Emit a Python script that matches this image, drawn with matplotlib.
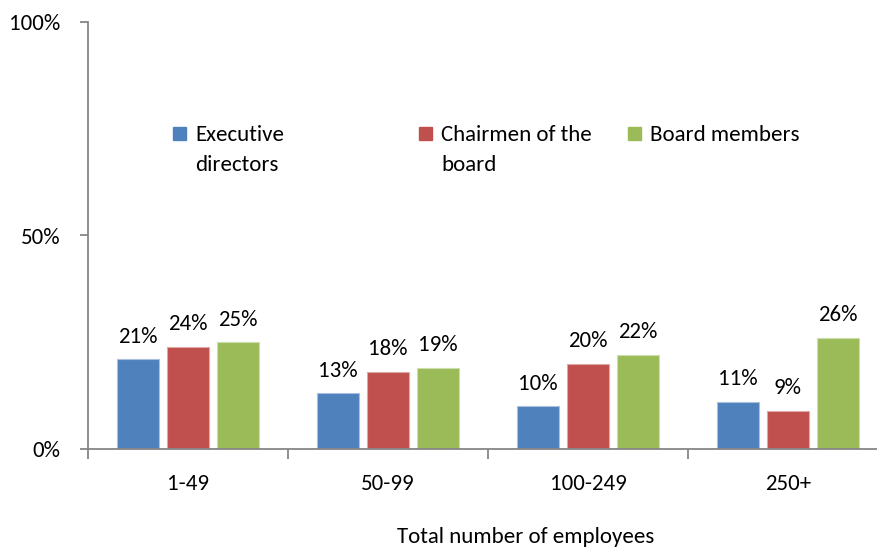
import matplotlib
matplotlib.use("Agg")
import matplotlib.pyplot as plt
from matplotlib.patches import Rectangle
import numpy as np

plt.rcParams['font.family'] = ['Carlito', 'Lato', 'DejaVu Sans']

categories = ["1-49", "50-99", "100-249", "250+"]
series_names = [["Executive", "directors"], ["Chairmen of the", "board"], ["Board members"]]
executive = [21, 13, 10, 11]
chairmen = [24, 18, 20, 9]
board = [25, 19, 22, 26]
yticks = [0, 50, 100]
ytick_labels = ["0%", "50%", "100%"]
xlabel = "Total number of employees"

colors = ["#4F81BD", "#C0504D", "#9BBB59"]
edges = ["#A9C0DE", "#DFA9A7", "#CDDDAC"]

W, H = 877, 550
fig = plt.figure(figsize=(W / 100, H / 100), dpi=100)
ax = fig.add_axes([88 / W, (H - 449) / H, 800 / W, 427 / H])

x = np.arange(len(categories))
offsets = [-0.25, 0.0, 0.25]
fs = 16.5
for vals, off, c, e in zip([executive, chairmen, board], offsets, colors, edges):
    bars = ax.bar(x + off, vals, width=0.21, color=c, edgecolor=e, linewidth=0.8, zorder=2)
    for b, v in zip(bars, vals):
        ax.annotate(f"{v}%", (b.get_x() + b.get_width() / 2, v), xytext=(0, 12),
                    textcoords="offset points", ha="center", va="baseline", fontsize=fs)

ax.set_xlim(-0.5, len(categories) - 0.5)
ax.set_ylim(0, 100)
ax.set_yticks(yticks)
ax.set_yticklabels(ytick_labels, fontsize=fs)
ax.set_xticks(x)
ax.set_xticklabels(categories, fontsize=fs)
ax.set_xticks(np.arange(len(categories) + 1) - 0.5, minor=True)
ax.tick_params(axis='x', which='major', length=0, pad=18)
ax.tick_params(axis='x', which='minor', length=7, width=1.3, color="#868686", direction='out')
ax.tick_params(axis='y', length=6, width=1.3, color="#868686", direction='out', pad=14)
for s in ["top", "right"]:
    ax.spines[s].set_visible(False)
for s in ["left", "bottom"]:
    ax.spines[s].set_color("#868686")
    ax.spines[s].set_linewidth(1.3)

fig.text(526 / W, 1 - 543 / H, xlabel, ha="center", va="baseline", fontsize=fs)

# legend
leg_pos = [(173, 195), (419, 441), (628, 650)]
for (sx, tx), lines, c in zip(leg_pos, series_names, colors):
    fig.patches.append(Rectangle((sx / W, 1 - 140 / H), 13 / W, 13 / H, color=c,
                                 transform=fig.transFigure, figure=fig))
    for i, line in enumerate(lines):
        fig.text(tx / W, 1 - (141 + 30 * i) / H, line, ha="left", va="baseline", fontsize=fs)

fig.savefig("out.png", dpi=100)
